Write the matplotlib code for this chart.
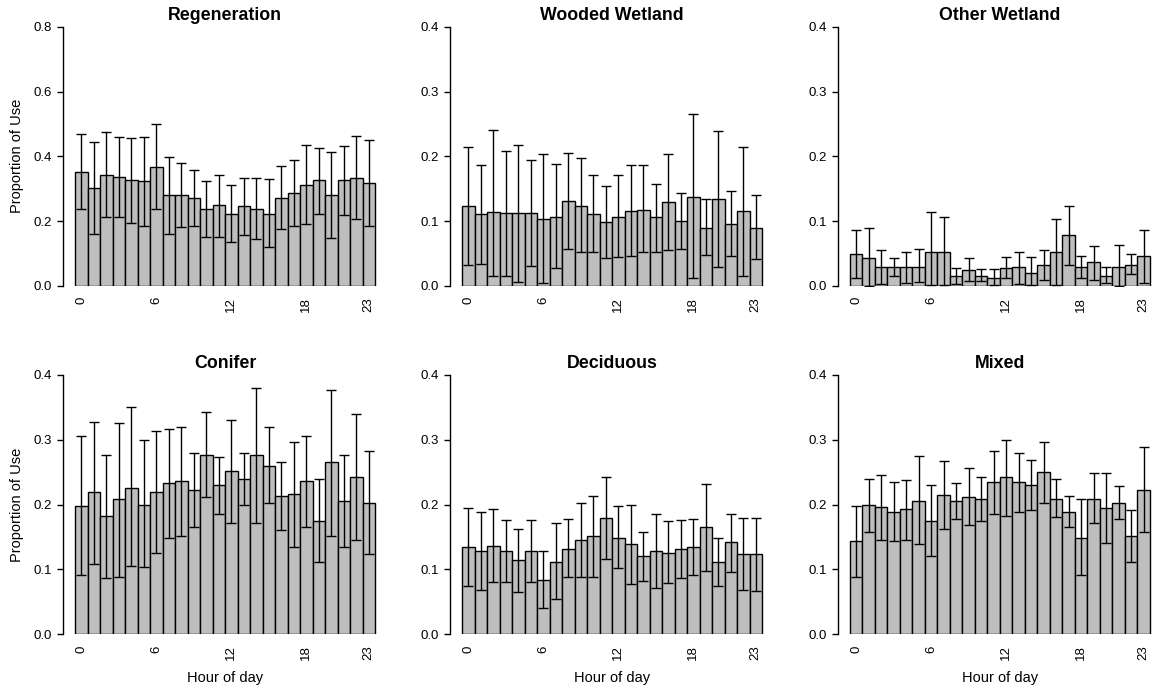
import matplotlib
matplotlib.use("Agg")
import matplotlib.pyplot as plt
import numpy as np

plt.rcParams['font.family'] = ['Liberation Sans', 'DejaVu Sans']

hours = list(range(24))
tick_hours = [0, 6, 12, 18, 23]

titles = ["Regeneration", "Wooded Wetland", "Other Wetland", "Conifer", "Deciduous", "Mixed"]
ytops = [0.8, 0.4, 0.4, 0.4, 0.4, 0.4]

regen_mean = [0.351, 0.301, 0.344, 0.335, 0.326, 0.323, 0.366, 0.280, 0.280, 0.270, 0.237, 0.249,
              0.223, 0.246, 0.237, 0.223, 0.270, 0.286, 0.311, 0.326, 0.280, 0.326, 0.332, 0.317]
regen_hi = [0.468, 0.443, 0.474, 0.459, 0.456, 0.459, 0.499, 0.397, 0.381, 0.357, 0.323, 0.344,
            0.311, 0.332, 0.332, 0.329, 0.369, 0.388, 0.434, 0.425, 0.412, 0.431, 0.462, 0.449]
regen_lo = [0.237, 0.161, 0.212, 0.212, 0.195, 0.186, 0.237, 0.161, 0.181, 0.185, 0.151, 0.151,
            0.137, 0.156, 0.144, 0.119, 0.175, 0.184, 0.190, 0.223, 0.147, 0.220, 0.207, 0.184]

wooded_mean = [0.123, 0.111, 0.114, 0.112, 0.112, 0.112, 0.103, 0.107, 0.131, 0.124, 0.111, 0.098,
               0.107, 0.115, 0.118, 0.106, 0.129, 0.100, 0.138, 0.090, 0.134, 0.095, 0.115, 0.090]
wooded_hi = [0.214, 0.186, 0.240, 0.209, 0.218, 0.195, 0.203, 0.188, 0.205, 0.197, 0.171, 0.154,
             0.171, 0.186, 0.186, 0.158, 0.203, 0.143, 0.265, 0.134, 0.239, 0.146, 0.215, 0.141]
wooded_lo = [0.032, 0.034, 0.015, 0.015, 0.006, 0.031, 0.005, 0.027, 0.057, 0.052, 0.052, 0.043,
             0.044, 0.046, 0.052, 0.053, 0.055, 0.057, 0.013, 0.048, 0.029, 0.046, 0.015, 0.041]

otherwet_mean = [0.049, 0.043, 0.029, 0.029, 0.029, 0.030, 0.053, 0.053, 0.015, 0.024, 0.016, 0.013,
                 0.027, 0.029, 0.020, 0.032, 0.052, 0.078, 0.030, 0.037, 0.016, 0.030, 0.033, 0.046]
otherwet_hi = [0.087, 0.090, 0.055, 0.043, 0.053, 0.057, 0.114, 0.106, 0.027, 0.043, 0.026, 0.026,
               0.044, 0.053, 0.044, 0.055, 0.104, 0.124, 0.047, 0.061, 0.029, 0.064, 0.050, 0.086]
otherwet_lo = [0.012, 0.000, 0.003, 0.015, 0.004, 0.006, 0.001, 0.001, 0.003, 0.007, 0.007, 0.001,
               0.012, 0.003, 0.001, 0.009, 0.001, 0.032, 0.012, 0.010, 0.004, 0.000, 0.018, 0.004]

conifer_mean = [0.198, 0.219, 0.182, 0.208, 0.226, 0.200, 0.219, 0.233, 0.236, 0.223, 0.277, 0.230,
                0.251, 0.239, 0.276, 0.260, 0.213, 0.216, 0.236, 0.174, 0.265, 0.206, 0.243, 0.203]
conifer_hi = [0.305, 0.327, 0.277, 0.325, 0.350, 0.299, 0.313, 0.317, 0.320, 0.280, 0.343, 0.273,
              0.330, 0.279, 0.380, 0.319, 0.265, 0.297, 0.305, 0.240, 0.377, 0.277, 0.340, 0.283]
conifer_lo = [0.092, 0.109, 0.086, 0.089, 0.105, 0.103, 0.126, 0.148, 0.151, 0.166, 0.212, 0.186,
              0.171, 0.200, 0.171, 0.202, 0.160, 0.134, 0.166, 0.111, 0.151, 0.134, 0.145, 0.123]

decid_mean = [0.134, 0.129, 0.136, 0.128, 0.114, 0.128, 0.083, 0.112, 0.132, 0.145, 0.151, 0.179,
              0.149, 0.139, 0.120, 0.128, 0.126, 0.131, 0.134, 0.165, 0.112, 0.142, 0.123, 0.123]
decid_hi = [0.194, 0.189, 0.193, 0.176, 0.162, 0.176, 0.128, 0.171, 0.177, 0.202, 0.213, 0.243,
            0.197, 0.200, 0.157, 0.186, 0.174, 0.176, 0.177, 0.231, 0.149, 0.186, 0.179, 0.179]
decid_lo = [0.074, 0.068, 0.080, 0.080, 0.065, 0.080, 0.040, 0.054, 0.088, 0.089, 0.089, 0.116,
            0.102, 0.077, 0.082, 0.071, 0.079, 0.086, 0.092, 0.097, 0.074, 0.096, 0.069, 0.066]

mixed_mean = [0.143, 0.199, 0.196, 0.188, 0.193, 0.206, 0.174, 0.214, 0.205, 0.211, 0.208, 0.234,
              0.242, 0.234, 0.230, 0.250, 0.209, 0.189, 0.149, 0.209, 0.194, 0.203, 0.151, 0.222]
mixed_hi = [0.197, 0.240, 0.246, 0.234, 0.237, 0.274, 0.230, 0.267, 0.233, 0.256, 0.242, 0.282,
            0.299, 0.279, 0.268, 0.297, 0.240, 0.213, 0.208, 0.248, 0.248, 0.228, 0.191, 0.288]
mixed_lo = [0.089, 0.157, 0.146, 0.143, 0.146, 0.139, 0.120, 0.162, 0.177, 0.168, 0.174, 0.186,
            0.183, 0.189, 0.191, 0.203, 0.180, 0.165, 0.091, 0.171, 0.140, 0.177, 0.112, 0.157]

means = [regen_mean, wooded_mean, otherwet_mean, conifer_mean, decid_mean, mixed_mean]
his = [regen_hi, wooded_hi, otherwet_hi, conifer_hi, decid_hi, mixed_hi]
los = [regen_lo, wooded_lo, otherwet_lo, conifer_lo, decid_lo, mixed_lo]

W, H = 1155, 692
fig = plt.figure(figsize=(W / 100, H / 100), dpi=100)

left_px = [63, 450, 838]
rows = [(26.7, 286.0), (374.7, 634.3)]
width_px = 324

for i in range(6):
    r, c = divmod(i, 3)
    top, bot = rows[r]
    ax = fig.add_axes([left_px[c] / W, (H - bot) / H, width_px / W, (bot - top) / H])
    x = np.array(hours) + 0.5
    m = np.array(means[i])
    ax.bar(x, m, width=1.0, color='#BEBEBE', edgecolor='black', linewidth=1.0)
    hi = np.array(his[i]); lo = np.array(los[i])
    ax.errorbar(x, m, yerr=[m - lo, hi - m], fmt='none', ecolor='black',
                elinewidth=1.0, capsize=3.5, capthick=1.0)
    ax.set_xlim(-0.96, 24.96)
    ax.set_ylim(0, ytops[i])
    ax.set_yticks(np.round(np.arange(0, ytops[i] + 1e-9, 0.2 if ytops[i] > 0.5 else 0.1), 2))
    ax.set_yticklabels([f"{v:.1f}" for v in ax.get_yticks()])
    ax.set_xticks([h + 0.5 for h in tick_hours])
    ax.set_xticklabels([str(h) for h in tick_hours], rotation=90, va='top')
    for s in ['top', 'right', 'bottom']:
        ax.spines[s].set_visible(False)
    ax.spines['left'].set_linewidth(1.0)
    ax.tick_params(axis='x', length=0, pad=8, labelsize=9.5)
    ax.tick_params(axis='y', length=4, width=1.0, pad=4, labelsize=9.5)
    ax.set_title(titles[i], fontsize=12.8, fontweight='bold', pad=5)
    if c == 0:
        ax.set_ylabel("Proportion of Use", fontsize=10.5)
        ax.yaxis.set_label_coords((17 - left_px[0]) / width_px, 0.5)
        ax.yaxis.label.set_va('center')
    if r == 1:
        ax.set_xlabel("Hour of day", fontsize=10.5)
        ax.xaxis.set_label_coords(0.5, -(678 - bot) / (bot - top))
        ax.xaxis.label.set_va('center')

fig.savefig("out.png", dpi=100)
